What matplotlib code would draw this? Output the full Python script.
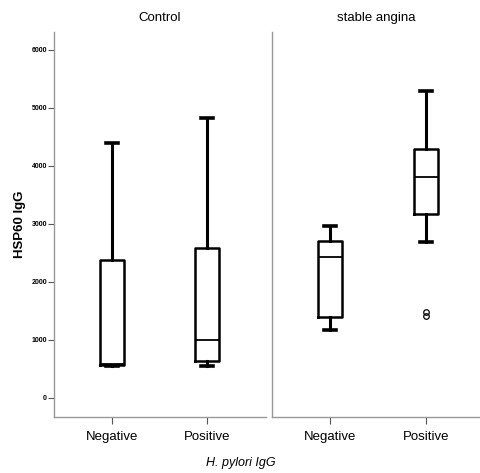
import matplotlib
matplotlib.use('Agg')
import matplotlib.pyplot as plt

plt.rcParams['font.family'] = ['Liberation Sans', 'DejaVu Sans']

panels = ['Control', 'stable angina']
groups = ['Negative', 'Positive']

# box stats: lower whisker, q1, median, q3, upper whisker
whislo = [[550, 550], [1170, 2690]]
q1 = [[570, 640], [1390, 3170]]
med = [[580, 1000], [2430, 3810]]
q3 = [[2380, 2590], [2700, 4290]]
whishi = [[4400, 4830], [2970, 5290]]
fliers = [[[], []], [[], [1480, 1410]]]

yticks = [0, 1000, 2000, 3000, 4000, 5000, 6000]

fig = plt.figure(figsize=(4.81, 4.73), dpi=100)
ax1 = fig.add_axes([54 / 481, 56 / 473, 212 / 481, 385 / 473])
ax2 = fig.add_axes([272 / 481, 56 / 473, 209 / 481, 385 / 473], sharey=ax1)

for p, ax in enumerate([ax1, ax2]):
    stats = []
    for g in range(2):
        stats.append(dict(whislo=whislo[p][g], q1=q1[p][g], med=med[p][g],
                          q3=q3[p][g], whishi=whishi[p][g], fliers=fliers[p][g]))
    ax.bxp(stats, positions=[1, 2], widths=0.25, capwidths=0.12,
           boxprops=dict(color='black', linewidth=1.8),
           whiskerprops=dict(color='black', linewidth=2.2),
           capprops=dict(color='black', linewidth=2.6),
           medianprops=dict(color='black', linewidth=1.3),
           flierprops=dict(marker='o', markersize=4, markerfacecolor='none',
                           markeredgecolor='black', markeredgewidth=0.9))
    ax.set_xticks([1, 2])
    ax.set_xticklabels(groups, fontsize=9.5)
    ax.set_title(panels[p], fontsize=9.5, pad=8)
    for s in ['top', 'right']:
        ax.spines[s].set_visible(False)
    for s in ['left', 'bottom']:
        ax.spines[s].set_color('#999999')
        ax.spines[s].set_linewidth(1.0)
    ax.tick_params(axis='x', length=5, color='#555555', pad=5)

ax1.set_xlim(0.39, 2.62)
ax2.set_xlim(0.396, 2.573)
ax1.set_ylim(-330, 6310)
ax1.set_yticks(yticks)
ax1.set_yticklabels([str(v) for v in yticks], fontsize=5, fontweight='bold')
ax1.tick_params(axis='y', length=4, color='#555555', pad=1)
ax2.tick_params(axis='y', left=False, labelleft=False)
ax1.set_ylabel('HSP60 IgG', fontsize=9.5, fontweight='bold', labelpad=4)

fig.text(0.5, 0.014, 'H. pylori IgG', fontsize=9, style='italic', ha='center')

fig.savefig('out.png', dpi=100)
